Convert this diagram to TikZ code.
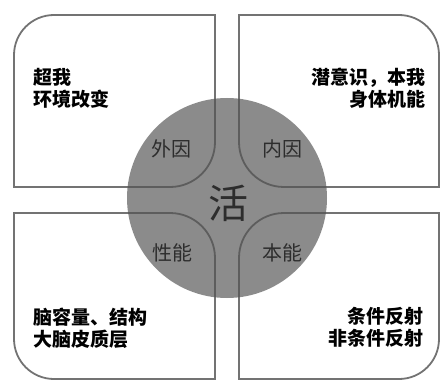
\documentclass[tikz,border=0pt]{standalone}
\usepackage{fontspec}
\newfontfamily\cjk{Noto Sans CJK SC}
\definecolor{boxline}{RGB}{115,115,115}
\definecolor{discfill}{RGB}{82,82,82}
\definecolor{disctext}{RGB}{45,45,45}
\tikzset{
  quad/.style={draw=boxline, line width=1.8pt, fill=white},
  outertext/.style={font=\cjk\bfseries\fontsize{19}{22}\selectfont, text=black, inner sep=0pt},
  disclabel/.style={font=\cjk\fontsize{20}{22}\selectfont, text=disctext, inner sep=0pt},
}
\begin{document}
\begin{tikzpicture}[x=1pt,y=1pt]
\useasboundingbox (0,0) rectangle (442,381);
% top-left box
\draw[quad] (14,194) -- (14,326) arc[start angle=180,end angle=90,radius=40] -- (215,366) -- (215,239) arc[start angle=0,end angle=-90,radius=45] -- cycle;
% top-right box
\draw[quad] (239,366) -- (399,366) arc[start angle=90,end angle=0,radius=40] -- (439,194) -- (284,194) arc[start angle=270,end angle=180,radius=45] -- cycle;
% bottom-left box
\draw[quad] (14,168) -- (170,168) arc[start angle=90,end angle=0,radius=45] -- (215,2) -- (54,2) arc[start angle=270,end angle=180,radius=40] -- cycle;
% bottom-right box
\draw[quad] (439,168) -- (439,42) arc[start angle=0,end angle=-90,radius=40] -- (239,2) -- (239,123) arc[start angle=180,end angle=90,radius=45] -- cycle;
% central disc
\node[circle, minimum size=200pt, inner sep=0pt, fill=discfill, fill opacity=0.667] (disc) at (227,183) {};
% disc labels
\node[disclabel] (waiyin) at (171,232) {外因};
\node[disclabel] (neiyin) at (282,232) {内因};
\node[disclabel, font=\cjk\fontsize{40}{44}\selectfont] (huo) at (228,178) {活};
\node[disclabel] (xingneng) at (172,128) {性能};
\node[disclabel] (benneng) at (282,128) {本能};
% outer texts
\node[outertext, anchor=west, align=left] (tl) at (33,293) {超我\\环境改变};
\node[outertext, anchor=east, align=right] (tr) at (426,293) {潜意识，本我\\身体机能};
\node[outertext, anchor=west, align=left] (bl) at (33,53) {脑容量、结构\\大脑皮质层};
\node[outertext, anchor=east, align=right] (br) at (424,54) {条件反射\\非条件反射};
\end{tikzpicture}
\end{document}
